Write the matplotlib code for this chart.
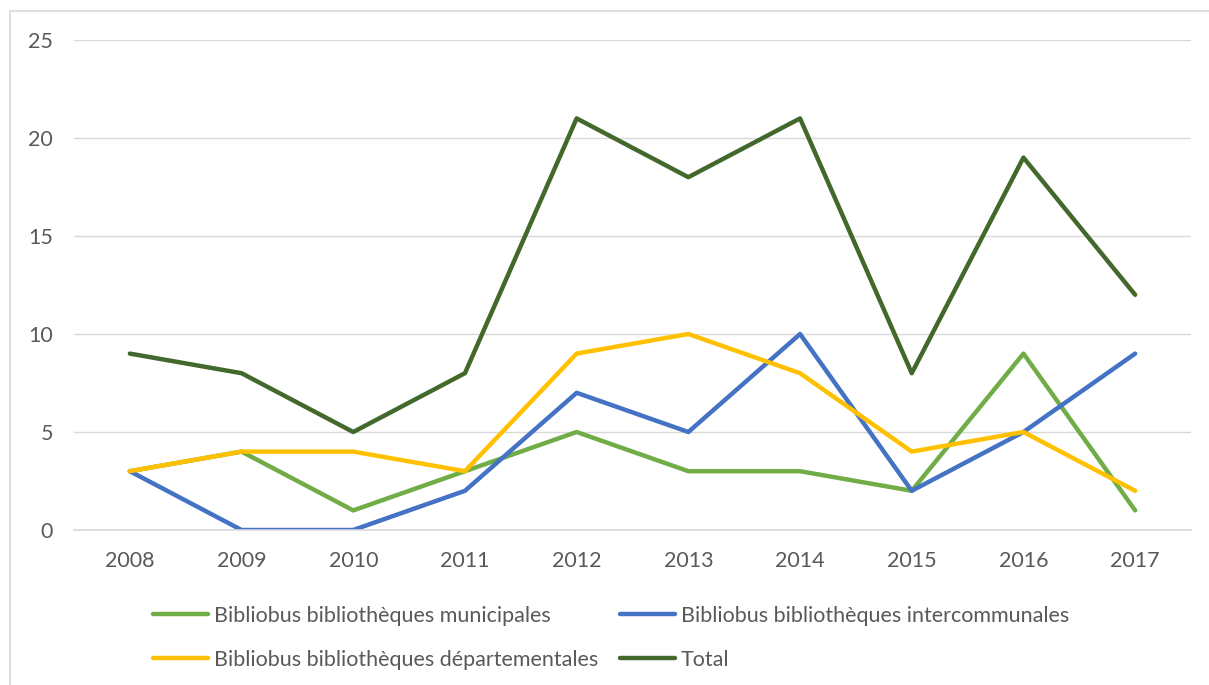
import matplotlib
matplotlib.use("Agg")
import matplotlib.pyplot as plt
from matplotlib.patches import Rectangle

years = ["2008", "2009", "2010", "2011", "2012", "2013", "2014", "2015", "2016", "2017"]
municipales = [3, 4, 1, 3, 5, 3, 3, 2, 9, 1]
intercommunales = [3, 0, 0, 2, 7, 5, 10, 2, 5, 9]
departementales = [3, 4, 4, 3, 9, 10, 8, 4, 5, 2]
total = [9, 8, 5, 8, 21, 18, 21, 8, 19, 12]

series = [
    ("Bibliobus bibliothèques municipales", municipales, "#70AD47"),
    ("Bibliobus bibliothèques intercommunales", intercommunales, "#4472C4"),
    ("Bibliobus bibliothèques départementales", departementales, "#FFC000"),
    ("Total", total, "#43682B"),
]

plt.rcParams['font.family'] = ['Lato', 'DejaVu Sans']
text_color = "#595959"
grid_color = "#D9D9D9"
fs = 15.5

W, H = 1209, 685
fig = plt.figure(figsize=(W / 100, H / 100), dpi=100)
ax = fig.add_axes([74 / W, 1 - 530 / H, (1191 - 74) / W, (530 - 40) / H])

x = list(range(len(years)))
handles = []
for label, vals, col in series:
    h, = ax.plot(x, vals, color=col, lw=3.2, solid_capstyle='round',
                 solid_joinstyle='round', label=label)
    handles.append(h)

ax.set_xlim(-0.5, len(years) - 0.5)
ax.set_ylim(0, 25)
ax.set_yticks([0, 5, 10, 15, 20, 25])
ax.set_xticks(x)
ax.set_xticklabels(years)
ax.yaxis.grid(True, color=grid_color, lw=1.0)
ax.set_axisbelow(True)
for s in ["top", "right", "left"]:
    ax.spines[s].set_visible(False)
ax.spines["bottom"].set_color(grid_color)
ax.spines["bottom"].set_linewidth(1.2)
ax.tick_params(axis='both', length=0, labelsize=fs, colors=text_color)
ax.tick_params(axis='y', pad=15)
ax.tick_params(axis='x', pad=15)

# legend (row-wise order: matplotlib fills columns first)
order = [0, 2, 1, 3]
leg = fig.legend(handles=[handles[i] for i in order], loc='upper left',
                 bbox_to_anchor=(144 / W, 1 - 597 / H),
                 ncol=2, frameon=False, fontsize=fs, handlelength=2.55,
                 handletextpad=0.3, columnspacing=1.0, labelspacing=1.13,
                 borderaxespad=0)
for t in leg.get_texts():
    t.set_color(text_color)
for l in leg.get_lines():
    l.set_solid_capstyle('round')

# outer chart border
fig.add_artist(Rectangle((10 / W, -0.05), 1.2, 1 - 11 / H + 0.05, transform=fig.transFigure,
                         fill=False, edgecolor=grid_color, lw=1.2))

fig.savefig("out.png", dpi=100, facecolor="white")
